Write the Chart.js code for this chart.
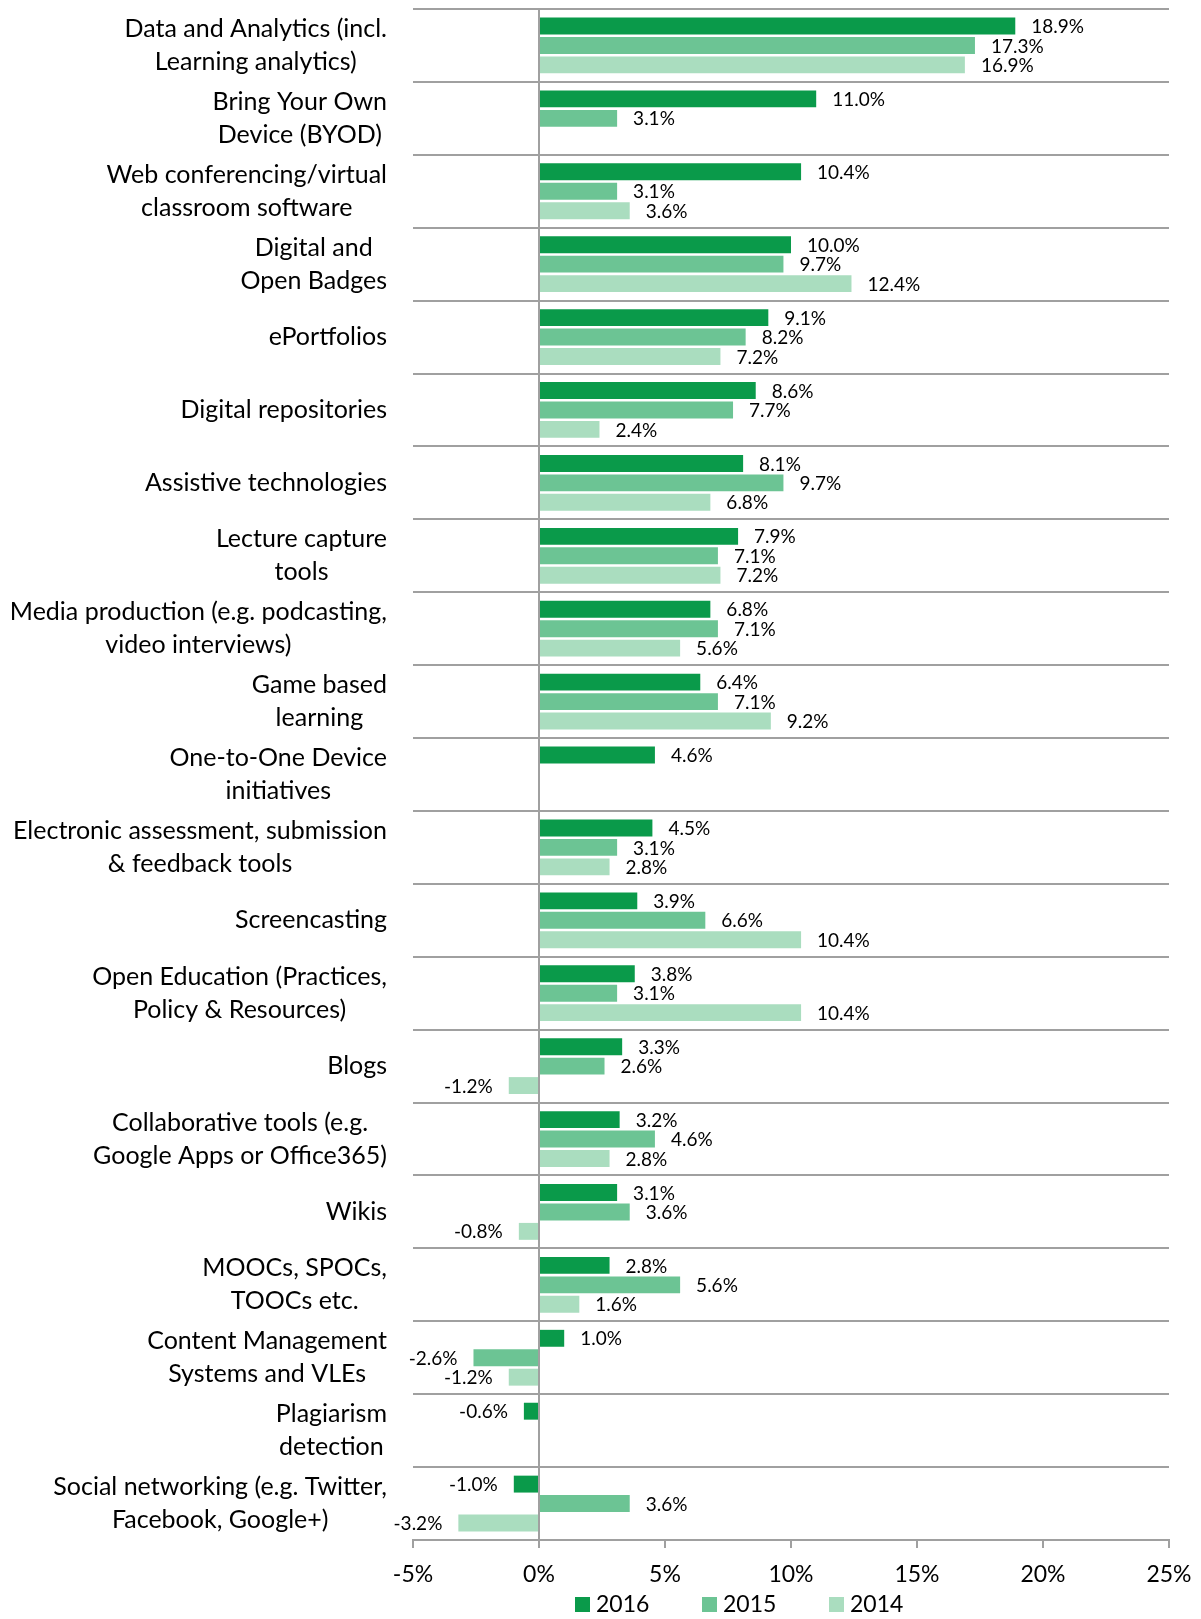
<!DOCTYPE html>
<html>
<head>
<meta charset="utf-8">
<script src="https://cdn.jsdelivr.net/npm/chart.js@4.4.0/dist/chart.umd.min.js"></script>
<style>
  html, body { margin: 0; padding: 0; background: #fff; overflow: hidden; }
</style>
</head>
<body>
<canvas id="chart" width="1201" height="1619"></canvas>
<script>
// Category names (each entry is one label; arrays are the wrapped lines)
const categories = [
  ['Data and Analytics (incl.', 'Learning analytics)'],
  ['Bring Your Own', 'Device (BYOD)'],
  ['Web conferencing/virtual', 'classroom software'],
  ['Digital and', 'Open Badges'],
  ['ePortfolios'],
  ['Digital repositories'],
  ['Assistive technologies'],
  ['Lecture capture', 'tools'],
  ['Media production (e.g. podcasting,', 'video interviews)'],
  ['Game based', 'learning'],
  ['One-to-One Device', 'initiatives'],
  ['Electronic assessment, submission', '& feedback tools'],
  ['Screencasting'],
  ['Open Education (Practices,', 'Policy & Resources)'],
  ['Blogs'],
  ['Collaborative tools (e.g.', 'Google Apps or Office365)'],
  ['Wikis'],
  ['MOOCs, SPOCs,', 'TOOCs etc.'],
  ['Content Management', 'Systems and VLEs'],
  ['Plagiarism', 'detection'],
  ['Social networking (e.g. Twitter,', 'Facebook, Google+)']
];

const years = ['2016', '2015', '2014'];
const values2016 = [18.9, 11.0, 10.4, 10.0, 9.1, 8.6, 8.1, 7.9, 6.8, 6.4, 4.6, 4.5, 3.9, 3.8, 3.3, 3.2, 3.1, 2.8, 1.0, -0.6, -1.0];
const values2015 = [17.3, 3.1, 3.1, 9.7, 8.2, 7.7, 9.7, 7.1, 7.1, 7.1, null, 3.1, 6.6, 3.1, 2.6, 4.6, 3.6, 5.6, -2.6, null, 3.6];
const values2014 = [16.9, null, 3.6, 12.4, 7.2, 2.4, 6.8, 7.2, 5.6, 9.2, null, 2.8, 10.4, 10.4, -1.2, 2.8, -0.8, 1.6, -1.2, null, -3.2];

const xTicks = [-5, 0, 5, 10, 15, 20, 25];

const FONT = 'Lato';
const GRID = '#a0a0a0';
const COLORS = ['#0a9a4a', '#6cc494', '#aaddbf'];

// wrapped category labels: block right-aligned, lines centred inside the block
const categoryLabels = {
  id: 'categoryLabels',
  afterDraw(chart) {
    const ctx = chart.ctx;
    const yScale = chart.scales.y;
    const right = chart.chartArea.left - 26;
    const lineHeight = 33;
    ctx.save();
    ctx.font = '25px ' + FONT;
    ctx.fillStyle = '#000';
    ctx.textAlign = 'center';
    ctx.textBaseline = 'middle';
    categories.forEach((lines, i) => {
      const w = Math.max(...lines.map(l => ctx.measureText(l).width));
      const cy = yScale.getPixelForValue(i);
      lines.forEach((line, j) => {
        ctx.fillText(line, right - w / 2, cy + (j - (lines.length - 1) / 2) * lineHeight);
      });
    });
    ctx.restore();
  }
};

// percentage next to the end of each bar
const valueLabels = {
  id: 'valueLabels',
  afterDatasetsDraw(chart) {
    const ctx = chart.ctx;
    ctx.save();
    ctx.font = '19px ' + FONT;
    ctx.fillStyle = '#000';
    ctx.textBaseline = 'middle';
    chart.data.datasets.forEach((ds, di) => {
      chart.getDatasetMeta(di).data.forEach((bar, i) => {
        const v = ds.data[i];
        if (v === null || v === undefined) return;
        const text = v.toFixed(1) + '%';
        if (v >= 0) {
          ctx.textAlign = 'left';
          ctx.fillText(text, bar.x + 16, bar.y + 1);
        } else {
          ctx.textAlign = 'right';
          ctx.fillText(text, bar.x - 16, bar.y + 1);
        }
      });
    });
    ctx.restore();
  }
};

// legend row under the axis
const yearLegend = {
  id: 'yearLegend',
  afterDraw(chart) {
    const ctx = chart.ctx;
    const y = 1604;
    let x = 575;
    ctx.save();
    ctx.font = '23px ' + FONT;
    ctx.textAlign = 'left';
    ctx.textBaseline = 'middle';
    chart.data.datasets.forEach(ds => {
      ctx.fillStyle = ds.backgroundColor;
      ctx.fillRect(x, y - 7, 15, 15);
      ctx.fillStyle = '#000';
      ctx.fillText(ds.label, x + 21, y + 1);
      x += 127;
    });
    ctx.restore();
  }
};

new Chart(document.getElementById('chart'), {
  type: 'bar',
  data: {
    labels: categories.map(c => c.join(' ')),
    datasets: [
      { label: years[0], data: values2016, backgroundColor: COLORS[0] },
      { label: years[1], data: values2015, backgroundColor: COLORS[1] },
      { label: years[2], data: values2014, backgroundColor: COLORS[2] }
    ]
  },
  options: {
    indexAxis: 'y',
    responsive: false,
    animation: false,
    devicePixelRatio: 1,
    datasets: {
      bar: { categoryPercentage: 0.8, barPercentage: 0.87 }
    },
    layout: { padding: { top: 9, right: 32, bottom: 30, left: 312 } },
    plugins: {
      tooltip: { enabled: false },
      legend: { display: false }
    },
    scales: {
      x: {
        min: -5,
        max: 25,
        afterBuildTicks: s => { s.ticks = xTicks.map(v => ({ value: v })); },
        afterFit: s => {
          s.height = 49;
          s.paddingLeft = 0;
          s.paddingRight = 0;
        },
        ticks: {
          font: { family: FONT, size: 23 },
          color: '#000',
          padding: 13,
          callback: v => v + '%'
        },
        grid: {
          color: c => (c.tick && c.tick.value === 0 ? GRID : 'rgba(0,0,0,0)'),
          tickColor: GRID,
          lineWidth: 2,
          tickLength: 8
        },
        border: { color: GRID, width: 2 }
      },
      y: {
        afterFit: s => { s.width = 101; },
        ticks: { display: false },
        grid: { color: GRID, lineWidth: 2, drawTicks: false, offset: true },
        border: { display: false }
      }
    }
  },
  plugins: [categoryLabels, valueLabels, yearLegend]
});
</script>
</body>
</html>
